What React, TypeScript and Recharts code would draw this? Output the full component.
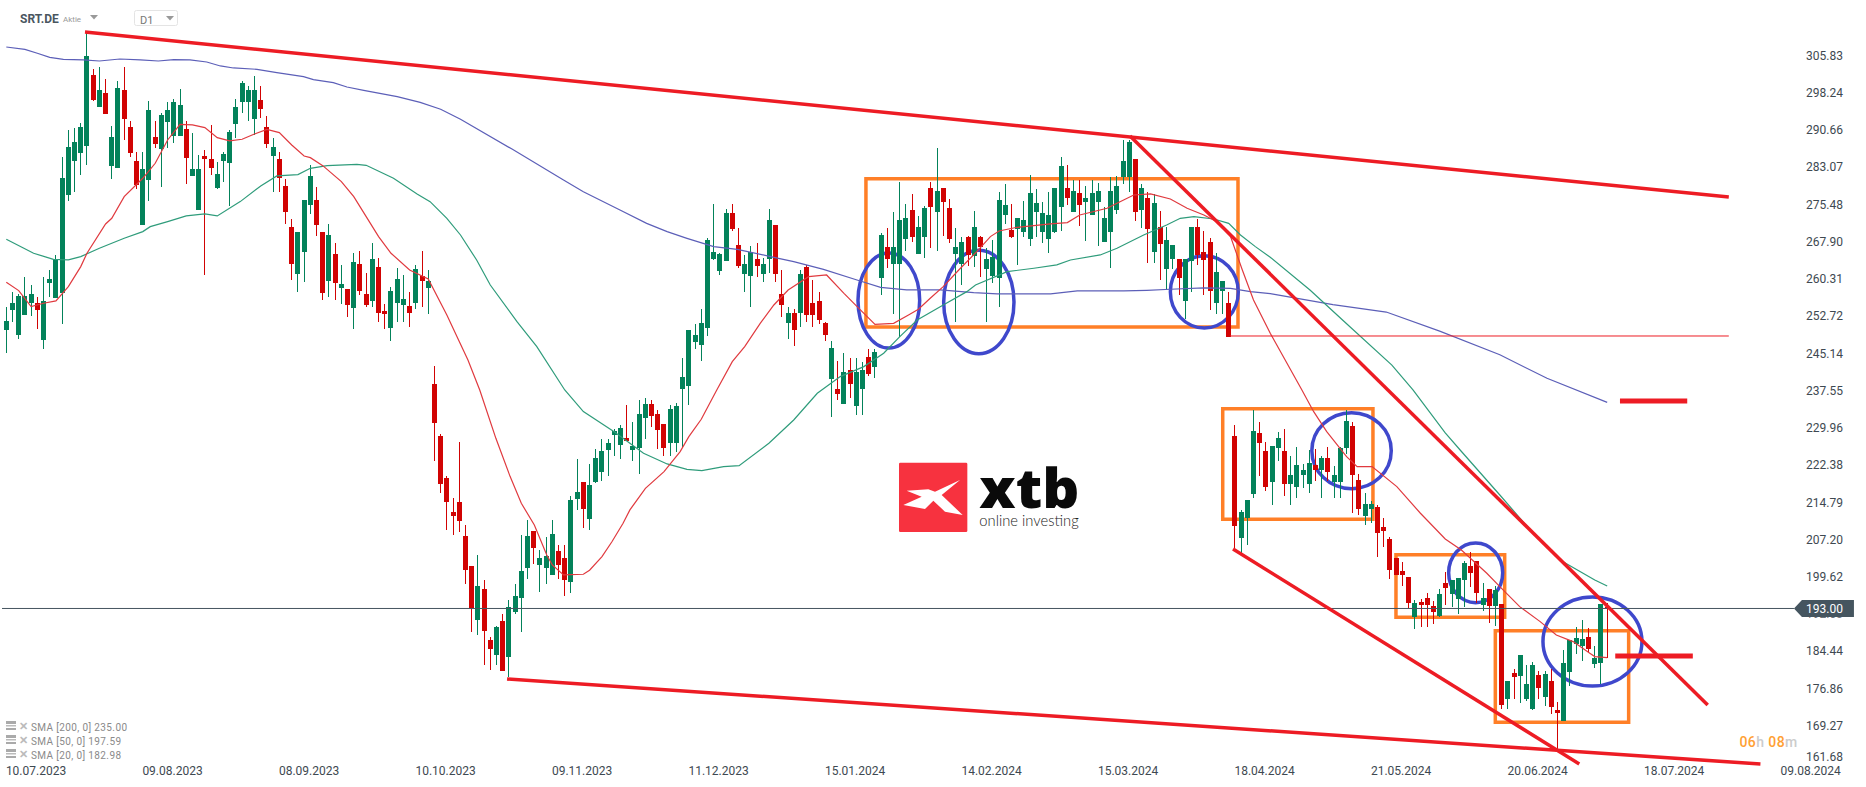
import { Bar, ComposedChart, Line, ReferenceArea, ReferenceDot, ReferenceLine, XAxis, YAxis } from "recharts";

const opens = [
  249.8, 253.8, 248.7, 252.8, 255.3, 255.3, 247.7, 259.3, 256.3, 257.3,
  277.3, 284.2, 285.8, 287.2, 301.7, 295.2, 298, 283.2, 282.8, 298.6,
  291.1, 284.2, 271.2, 280.3, 289.1, 286.6, 292.1, 289.3, 289.3, 290.7,
  281.1, 274.2, 285.2, 284.6, 278.7, 284.2, 283.8, 291.7, 296.2, 296.2,
  292.7, 296.6, 291.1, 285.2, 284.6, 279.1, 270.7, 261.2, 265.6, 275.2,
  276.2, 269.7, 259.7, 265.2, 258.3, 258.1, 254.2, 263.2, 257.1, 255.7,
  262.6, 253.6, 250.2, 255.3, 254.8, 254.6, 255.3, 260.8, 258.3, 238.7,
  228.2, 219.6, 212.7, 214.7, 207.8, 201.7, 190.6, 197, 186.6, 183.5,
  190.5, 183.1, 192.3, 195.2, 201.3, 208.8, 201.9, 201.3, 199.8, 204.7,
  203.3, 198.4, 215.3, 218.8, 211.2, 218.8, 220.8, 225.3, 228.4, 226.3,
  227.7, 225.3, 225.7, 231.8, 234.7, 232.6, 230.6, 226.7, 226.7, 237.7,
  238.3, 247.3, 246.7, 250.2, 264.2, 261.8, 263.8, 273.6, 267.1, 261.2,
  260.7, 264.2, 261.2, 264.2, 271.1, 257.1, 251.2, 253.2, 253.2, 262.6,
  255.2, 255.7, 251.2, 239.8, 237.7, 234.7, 241.6, 234.3, 237.7, 244.2,
  242.2, 260.3, 266.6, 263.2, 263.2, 268.3, 274.2, 265.2, 268.7, 278.7,
  273.8, 278.7, 274.6, 265.2, 263.2, 268.7, 264.8, 268.7, 262.2, 260.8,
  260.3, 273.2, 270.1, 270.3, 269.7, 268.3, 273.8, 269.7, 268.3, 269.7,
  274.8, 278.7, 273.8, 277.7, 275.8, 273.2, 275.8, 267.7, 269.7, 274.2,
  280.9, 280.9, 284.6, 274.2, 276.6, 265.6, 270.7, 262.2, 264.2, 264.2,
  255.7, 263.8, 270.7, 265.6, 267.7, 255.3, 257.7, 255.3, 228.1, 207.4,
  211.4, 216.3, 228.8, 225.1, 218.8, 225.7, 225.1, 218.4, 217.8, 220.2,
  218.4, 222.2, 221.2, 223.7, 218.8, 218.8, 225.7, 230.2, 219.2, 211.9,
  213.3, 213.7, 209.6, 207.2, 203.3, 200.6, 199.4, 191.2, 194.3, 195.1,
  193.5, 191.5, 198.2, 196, 194.9, 198.8, 201.7, 202.7, 193.7, 196.9,
  193.5, 193.9, 174.6, 179.9, 179.2, 174.6, 172.5, 179.5, 175, 178.2,
  172.3, 170, 180.1, 185.8, 185.4, 187.2, 181.7, 181.9, 193.2,
];

const closes = [
  251.6, 255.3, 256.7, 256.7, 257.1, 253.8, 255.7, 260.2, 264.2, 280.7,
  287, 288, 291.1, 305.6, 296.6, 298.6, 293.8, 289.1, 299, 292.7,
  285.8, 279.3, 282.6, 294.6, 287.6, 293.6, 294.6, 296.2, 295.6, 284.8,
  282.6, 282.6, 284.6, 282.8, 281.5, 285.6, 290.1, 295.2, 300.1, 298.6,
  298.6, 294.8, 287.6, 287, 280.7, 273.8, 263.2, 269.7, 276.2, 281.1,
  271.2, 257.3, 269.1, 259.3, 259.1, 254.8, 263.6, 257.7, 254.8, 264.2,
  253.2, 253, 257.7, 260.2, 256.1, 253.2, 262.2, 259.7, 259.7, 230.8,
  218.4, 214.7, 211.9, 210.8, 200.9, 193.1, 197.6, 188.4, 184.8, 189.2,
  180.3, 193.3, 195.5, 200.6, 207.8, 205.3, 203.3, 203.7, 208.2, 201.9,
  198.8, 215.1, 216.7, 213.3, 218.2, 223.7, 225.1, 226.7, 229.2, 229.8,
  227.1, 226.1, 232.6, 234.7, 232.2, 229.4, 225.7, 233.6, 234.3, 240.2,
  249.7, 248.7, 251.2, 268.1, 265.6, 265.2, 273.6, 270.3, 262.8, 263.2,
  265.6, 262.8, 263.2, 272.2, 261.2, 254.8, 253.2, 249.7, 261.2, 252.8,
  252.8, 251.8, 248.7, 246.1, 236.7, 241.2, 238.7, 241.2, 241.6, 240.8,
  245.3, 269.1, 264.2, 266.7, 272.2, 272.6, 268.7, 270.7, 274.6, 274.8,
  278.1, 275.8, 268.3, 266.7, 267.7, 265, 270.7, 266.7, 264.2, 264.6,
  276.2, 275.2, 268.7, 272.6, 272.2, 277.7, 275.6, 273.6, 273.2, 278.7,
  283.2, 276.6, 278, 275.2, 276.6, 277.7, 278, 272.6, 278, 279.1,
  284.2, 288.1, 273.8, 278.7, 270.3, 275.6, 267.3, 268.1, 267, 260.3,
  264.2, 270.7, 265, 264, 257.7, 261.6, 259.7, 248.4, 209.8, 212.7,
  215.1, 229.2, 226.7, 217.8, 226.1, 227.7, 218.4, 220.2, 222.2, 221.2,
  222.7, 221.2, 223.7, 220.8, 220.2, 225.7, 231.2, 220.2, 213.3, 214.3,
  214.3, 208.4, 208.8, 200.9, 199.8, 199.8, 194.1, 194.1, 193.7, 193.7,
  192.3, 196, 197.2, 198.8, 199.2, 202.3, 200.2, 196.2, 195.1, 193.5,
  196.8, 173.4, 178.2, 179, 183.5, 177.6, 181.5, 176.8, 179.7, 172.9,
  171.7, 181.9, 186.6, 187, 186.8, 184.8, 182.9, 193.9, 193,
];

const highs = [
  254.4, 257.4, 257.1, 260.5, 258.9, 256.4, 260.5, 262, 265, 285,
  290.5, 290.8, 291.9, 310.4, 302.9, 303.3, 300.9, 291.4, 300.5, 303.3,
  292.3, 286, 286, 296.4, 292.3, 294, 296.2, 296.8, 298.8, 292.3,
  289.9, 285.4, 286.4, 291.5, 284, 286, 290.5, 296.8, 300.5, 299.5,
  301.5, 299.5, 293.3, 288.9, 286, 280.5, 272.4, 269.7, 276.2, 283.4,
  278.9, 269.7, 271.4, 267.5, 263, 258.1, 265.4, 265.8, 261.4, 267.5,
  264.4, 255.1, 258.5, 262.4, 261, 257.5, 263, 265.8, 262, 242.4,
  228.6, 220, 215.5, 226.9, 210, 201.7, 203.9, 198.8, 187.2, 189.4,
  191.9, 194.7, 198, 208, 211, 208.8, 204.9, 207.6, 211, 205.9,
  205.9, 215.9, 223.5, 218.8, 222.4, 225.5, 227.5, 227.5, 229.6, 230.4,
  234.5, 231, 235.5, 235.9, 235.5, 233.4, 230.6, 234.5, 234.9, 244,
  249.7, 251, 254, 268.5, 275.4, 265.4, 274.4, 275.4, 270.5, 265,
  266.9, 267.5, 264.4, 274.4, 271.1, 262, 254.4, 254, 262, 263,
  259.9, 257.5, 251.4, 247.5, 243.4, 245.1, 244, 244, 243.2, 245.9,
  245.9, 269.5, 270.5, 273.8, 279.9, 275.4, 277.5, 273, 275, 279.9,
  286.8, 278.7, 276.4, 270.5, 268.7, 268.9, 274, 268.9, 266.4, 268.1,
  277.9, 279.5, 275.4, 272.6, 276, 281.3, 278.5, 275.8, 277.9, 278.7,
  285, 283.4, 280.3, 280.3, 279, 280.3, 279.7, 274.8, 280.9, 281.1,
  288.5, 288.5, 284.6, 279.5, 277.9, 277.5, 274, 270.7, 267, 264.2,
  264.2, 270.7, 272.4, 269.9, 268.5, 265.4, 259.7, 257.5, 230.4, 213.1,
  215.1, 233.4, 231, 226.9, 226.1, 229, 229.6, 224.1, 225.9, 222.4,
  225.3, 225.5, 224.1, 225.9, 222, 225.9, 233.4, 231, 220.4, 216.5,
  214.9, 214.1, 211.4, 207.6, 203.3, 202.5, 199.4, 194.7, 194.9, 196.2,
  194.5, 196.9, 200.4, 198.8, 199.2, 202.7, 204.5, 202.7, 198.2, 196.9,
  197.6, 194, 178.2, 180.7, 183.5, 181.5, 182.1, 180.2, 180.3, 180.7,
  173.9, 184.5, 186.6, 189.2, 190.7, 189, 185.4, 193.9, 194.1,
];

const lows = [
  245.1, 251.4, 247.9, 252.8, 252.5, 250, 245.9, 256.4, 256.3, 251,
  276, 277.9, 281.3, 283.4, 296.4, 295.2, 293.8, 280.5, 282.8, 288.5,
  285, 278.5, 271.2, 276, 286.8, 278.9, 286.8, 287.9, 289.3, 279.5,
  281.1, 274.2, 261, 281.3, 278.5, 279.9, 275, 288.9, 294, 292.3,
  289.5, 292.9, 286.8, 277.9, 277.9, 271.4, 259.9, 257.5, 259.5, 273.4,
  268.9, 255.9, 256.5, 255.9, 255, 252.4, 250, 256.9, 254.5, 254.5,
  251.4, 250, 247.5, 251.4, 251.4, 250.4, 254, 254.5, 253, 223.1,
  216.5, 209, 208, 208.6, 198, 188.2, 187.6, 181.5, 180.5, 181.5,
  180.3, 179, 191.9, 188.2, 199, 202.1, 196.4, 198, 199.8, 199,
  195.6, 196.2, 213.1, 209.4, 209, 218.6, 219, 220, 224, 223.5,
  227.1, 223.1, 220.4, 227.5, 230, 225.5, 224.1, 224.1, 224.9, 225.6,
  234.5, 245.9, 243.4, 248.5, 264, 260.9, 263.8, 269.9, 262.4, 257.5,
  254.4, 260.5, 259.5, 261.4, 259.5, 252.4, 247.9, 246.5, 250.4, 251.4,
  250.4, 251, 247.5, 232, 235.5, 234.7, 235.9, 232.4, 232.4, 240.4,
  240, 256.9, 262.4, 253, 248.4, 265.8, 267.7, 265.2, 264.4, 266.4,
  265.8, 268.9, 267.5, 251.4, 258.9, 262.8, 262.6, 260.5, 251.4, 259.3,
  254.4, 271.3, 268.5, 263, 268.7, 266.9, 268.7, 267.5, 265.4, 269.5,
  269.9, 275.2, 273.8, 271, 267.9, 273.2, 266.9, 267.7, 262.4, 273.4,
  279.5, 277.9, 272, 270.5, 263.4, 263.4, 259.9, 257.9, 262.2, 256.9,
  252, 257.5, 263, 256.9, 253.8, 253, 253, 248.4, 204.9, 203.9,
  205.9, 215.5, 220, 217, 214.1, 223, 215.9, 214.1, 215.5, 217.6,
  216.5, 219, 215.5, 219, 215.5, 215.5, 224.5, 212.5, 212.1, 210,
  210.4, 203.5, 205.5, 199, 199.8, 197.6, 193, 188.8, 189.2, 189.2,
  189.8, 191.3, 193.7, 193.3, 191.9, 193.3, 197.4, 194.1, 192.5, 190,
  189.4, 172.6, 172.5, 174.6, 173.8, 174.2, 172.3, 174.6, 173.2, 171.5,
  164.2, 170, 177.2, 183.7, 182.3, 184.1, 180.9, 177.6, 182.9,
];

// moving averages as [candle index, price]
const sma20Points = [
  [0, 259.47], [2, 257.77], [4, 254.51], [6, 255.19], [8, 255.67], [10, 258.59], [12, 262.66], [13, 265.38],
  [16, 271.35], [17, 272.5], [19, 276.92], [22, 280.65], [24, 283.71], [26, 288.46], [28, 291.65], [30, 291.52],
  [32, 290.97], [34, 288.94], [36, 288.26], [38, 288.6], [40, 289.68], [42, 290.63], [44, 289.96], [46, 287.44],
  [48, 285.2], [49, 284.86], [51, 283.23], [54, 279.97], [56, 276.92], [58, 272.84], [60, 268.77], [62, 265.38],
  [65, 261.98], [68, 260.15], [71, 252.8], [73, 247.38], [74.4, 243.63], [76.3, 237.52], [78.9, 227.67], [81.2, 219.87],
  [83, 214.43], [85.1, 210.02], [87.1, 203.91], [88, 201.87], [89.8, 199.83], [93, 199.97], [94, 200.8], [96, 203.57],
  [97.6, 206.6], [99.4, 210.36], [100.5, 213.08], [103, 217.49], [106, 220.89], [108.6, 224.96], [110, 228.02],
  [112, 231.55], [114.5, 237.52], [117, 243.3], [119, 246.35], [121.5, 251.1], [123.7, 254.84], [126, 257.89],
  [129.3, 260.61], [132.2, 260.95], [135, 257.21], [137.4, 254.16], [140, 250.9], [143, 251.1], [145.4, 252.8],
  [147, 253.96], [148.9, 256.2], [151, 258.58], [153.5, 261.97], [156.4, 265.71], [158.6, 268.77], [160, 269.92],
  [162.9, 270.67], [168.3, 271.35], [171, 271.62], [173, 273.18], [177.4, 274.54], [179, 275.56], [181.7, 277.25],
  [184.4, 277.46], [187.6, 276.44], [190.3, 274.54], [193, 273.18], [195.1, 271.82], [197.3, 268.77], [199.2, 261.97],
  [201, 255.86], [203.7, 249.07], [208.8, 237.52], [210.7, 233.1], [212.8, 229.03], [216, 223.94], [217.7, 221.9],
  [220.1, 221.9], [224.1, 217.83], [227.9, 212.4], [231.9, 207.17], [234.5, 204.92], [238.6, 200.17], [240.7, 197.45],
  [243.9, 193.38], [247.2, 190.32], [249.8, 187.6], [252.5, 186.25], [255.2, 183.87], [256, 183.19], [258, 182.98],
];

const sma50Points = [
  [0, 268.23], [4.4, 265.38], [7.6, 264.15], [10, 264.02], [12, 264.7], [15, 266.4], [19, 268.43], [22, 269.79],
  [23.2, 270.8], [26, 271.83], [29, 272.98], [32, 273.39], [34, 272.98], [37.7, 275.9], [41, 279.09], [43.6, 281.13],
  [47, 281.4], [49, 282.69], [51.7, 283.23], [56.5, 283.5], [58, 283.3], [62.4, 280.65], [66.2, 277.46], [68.3, 275.9],
  [71, 272.5], [73.2, 269.1], [75.8, 264], [78, 258.9], [82.3, 251.44], [85.5, 246.35], [90, 237.52], [93, 233.11],
  [97.9, 229.04], [102.7, 224.62], [106.5, 222.45], [109.7, 221.36], [112.1, 221.09], [115.6, 221.91], [118.1, 222.11],
  [122.9, 226.66], [126.9, 231.41], [130.7, 236.84], [134.4, 240.24], [138.2, 242.28], [141.4, 245], [144, 248.4],
  [146.8, 251.79], [151, 254.85], [154.8, 257.56], [156.2, 258.92], [161.3, 261.64], [165.6, 262.32], [169.3, 263],
  [171.5, 264], [176.3, 265.03], [179, 266.39], [183.3, 269.1], [187, 271.14], [189.2, 272.5], [191.4, 272.84],
  [194.6, 272.36], [197, 271.48], [198.9, 269.1], [201.3, 266.73], [203.7, 264.56], [210.1, 257.89], [215.7, 251.37],
  [223.3, 242.6], [226.7, 237.52], [231.9, 228.76], [234.3, 225.29], [240.7, 216.12], [245.6, 208.99], [250.4, 202.88],
  [256, 198.8], [258, 197.59],
];

const sma200Points = [
  [0, 307.4], [3, 306.93], [5, 306.12], [7, 305.3], [9.2, 304.9], [12.4, 304.76], [15, 304.55], [18.3, 304.96],
  [21.6, 304.76], [24.5, 304.55], [27, 304.83], [29.6, 304.76], [32.3, 304.35], [34.5, 303.54], [36.6, 303.13],
  [40.4, 302.86], [43.6, 302.18], [47.9, 301.36], [49.5, 300.75], [52.7, 300.14], [54.9, 299.26], [57.6, 298.58],
  [63, 297.29], [66.7, 296.13], [70, 294.71], [73.2, 292.67], [81.5, 286.6], [89.8, 280.3], [93, 277.92], [98.9, 274.19],
  [103.2, 271.47], [106.5, 269.78], [109.7, 268.42], [114, 266.72], [117.8, 266.18], [123.7, 264.55], [126.9, 263.66],
  [131.7, 262.1], [137.1, 259.93], [140.9, 258.44], [145.1, 257.9], [150.5, 257.9], [155.9, 257.36], [159.7, 257.09],
  [168.3, 257.09], [172.6, 257.7], [180.1, 257.7], [183.8, 257.83], [187.6, 258.04], [193, 258.31], [197.3, 258.24],
  [200.5, 257.56], [203.7, 257.15], [213.8, 254.9], [222.4, 253.4], [231, 249.5], [240.7, 244.7], [248.3, 239.9], [258, 235],
];

const priceTicks = [
  305.83, 298.24, 290.66, 283.07, 275.48, 267.9, 260.31, 252.72, 245.14, 237.55,
  229.96, 222.38, 214.79, 207.2, 199.62, 192.03, 184.44, 176.86, 169.27, 161.68,
];

const dateLabels = [
  "10.07.2023", "09.08.2023", "08.09.2023", "10.10.2023", "09.11.2023", "11.12.2023", "15.01.2024",
  "14.02.2024", "15.03.2024", "18.04.2024", "21.05.2024", "20.06.2024", "18.07.2024", "09.08.2024",
];
const dateTicks = dateLabels.map((_, k) => 4.79 + 22 * k);

// drawn analysis, in candle index / price
const trendLines = [
  { x1: 12.68, y1: 310.46, x2: 277.6, y2: 276.84, w: 3.5 },
  { x1: 80.7, y1: 178.63, x2: 282.7, y2: 161.3, w: 3.5 },
  { x1: 181.1, y1: 289.27, x2: 274.2, y2: 173.34, w: 3.5 },
  { x1: 197.7, y1: 205.12, x2: 253.5, y2: 161.32, w: 3.5 },
  { x1: 197.2, y1: 248.52, x2: 277.6, y2: 248.52, w: 1 },
  { x1: 260.06, y1: 235.28, x2: 270.9, y2: 235.28, w: 5 },
  { x1: 259.3, y1: 183.32, x2: 271.8, y2: 183.32, w: 5 },
];
const boxes = [
  { x1: 138.54, x2: 198.5, y1: 250.35, y2: 280.57 },
  { x1: 196.04, x2: 220.25, y1: 211.17, y2: 233.71 },
  { x1: 223.96, x2: 241.48, y1: 191.2, y2: 203.96 },
  { x1: 239.97, x2: 261.46, y1: 169.81, y2: 188.48 },
];
const ellipses = [
  { x1: 137.26, x2: 147.2, y1: 246.07, y2: 265.43 },
  { x1: 151.07, x2: 162.4, y1: 244.91, y2: 265.98 },
  { x1: 187.6, x2: 198.55, y1: 250.15, y2: 264.88 },
  { x1: 210.4, x2: 223.2, y1: 217.41, y2: 232.89 },
  { x1: 232.45, x2: 241.16, y1: 194.18, y2: 206.35 },
  { x1: 247.65, x2: 263.6, y1: 177.2, y2: 195.34 },
];

const lastPrice = 193;
const smaLegend = ["SMA [200, 0] 235.00", "SMA [50, 0] 197.59", "SMA [20, 0] 182.98"];

const GREEN = "#03825A";
const RED = "#D10303";
const TREND = "#ED1C24";
const font = "Roboto, sans-serif";

const candles = opens.map((open, i) => ({
  i,
  open,
  close: closes[i],
  high: highs[i],
  low: lows[i],
  range: [lows[i], highs[i]],
}));

const toPoints = (pts: number[][]) => pts.map(([i, v]) => ({ i, v }));

function Candle(props: any) {
  const { x, y, width, height, payload } = props;
  const { open, close, high, low } = payload;
  const color = close >= open ? GREEN : RED;
  const perUnit = height / (high - low);
  const top = y + (high - Math.max(open, close)) * perUnit;
  const bodyH = Math.max(1, Math.abs(open - close) * perUnit);
  const cx = x + width / 2;
  return (
    <g shapeRendering="crispEdges">
      <rect x={Math.round(cx - 0.5)} y={y} width={1} height={height} fill={color} />
      <rect x={Math.round(cx - 2.5)} y={top} width={5} height={bodyH} fill={color} />
    </g>
  );
}

function PriceTick({ x, y, payload }: any) {
  const value = payload.value;
  // the lowest label is pushed up by the time axis
  const shift = value === 161.68 ? -5 : 1;
  // 192.03 sits behind the price flag, only its lower edge shows
  const hidden = value === 192.03;
  return (
    <g>
      {hidden && (
        <clipPath id="behind-flag">
          <rect x={x - 50} y={y + 4} width={60} height={12} />
        </clipPath>
      )}
      <text
        x={x}
        y={y + shift + 4}
        textAnchor="end"
        fontFamily={font}
        fontSize={12}
        fill="#3E4951"
        clipPath={hidden ? "url(#behind-flag)" : undefined}
      >
        {value.toFixed(2)}
      </text>
    </g>
  );
}

function DateTick({ x, y, index }: any) {
  return (
    <text x={x} y={y + 8} textAnchor="middle" fontFamily={font} fontSize={12} fill="#3E4951">
      {dateLabels[index]}
    </text>
  );
}

function PriceFlag({ cx, cy }: any) {
  return (
    <g>
      <polygon points={`${cx},${cy} ${cx + 8},${cy - 8.5} ${cx + 60},${cy - 8.5} ${cx + 60},${cy + 8.5} ${cx + 8},${cy + 8.5}`} fill="#45555F" />
      <text x={cx + 49} y={cy + 5} textAnchor="end" fontFamily={font} fontSize={12} fill="#fff">
        {lastPrice.toFixed(2)}
      </text>
    </g>
  );
}

function EllipseShape({ x, y, width, height }: any) {
  return (
    <ellipse
      cx={x + width / 2}
      cy={y + height / 2}
      rx={Math.abs(width) / 2}
      ry={Math.abs(height) / 2}
      fill="none"
      stroke="#3F48CC"
      strokeWidth={3.5}
    />
  );
}

function Overlay() {
  return (
    <svg width={1866} height={787} style={{ position: "absolute", left: 0, top: 0, pointerEvents: "none" }}>
      <text x={20} y={23} fontFamily={font} fontSize={12} fontWeight={700} fill="#4A565F">SRT.DE</text>
      <text x={63} y={22} fontFamily={font} fontSize={8} fill="#999">Aktie</text>
      <polygon points="90,15 98,15 94,19.5" fill="#999" />
      <rect x={134.5} y={10.5} width={43} height={15} rx={2} fill="#fff" stroke="#E4E4E4" />
      <text x={140} y={24} fontFamily={font} fontSize={11} fill="#777">D1</text>
      <polygon points="166,16 174,16 170,20.5" fill="#999" />

      {smaLegend.map((label, k) => {
        const cy = 727 + k * 14;
        return (
          <g key={label}>
            <rect x={6} y={cy - 6} width={10} height={3} fill="#AAA" />
            <rect x={6} y={cy - 2} width={10} height={1.5} fill="#BBB" />
            <rect x={6} y={cy + 1} width={10} height={2} fill="#AAA" />
            <text x={19} y={cy + 3} fontFamily={font} fontSize={11} fontWeight={700} fill="#BBB">✕</text>
            <text x={31} y={cy + 4} fontFamily={font} fontSize={10} fill="#8A8A8A" textLength={label.length > 18 ? 96 : 90}>
              {label}
            </text>
          </g>
        );
      })}

      <text x={1739.5} y={747} fontFamily={font} fontSize={14} fontWeight={500} letterSpacing={0.4}>
        <tspan fill="#FFA033">06</tspan>
        <tspan fill="#CCC">h </tspan>
        <tspan fill="#FFA033">08</tspan>
        <tspan fill="#CCC">m</tspan>
      </text>

      <svg x={880} y={440} width={220} height={110} viewBox="0 0 660 330">
        <rect x={57} y={68} width={205} height={208} rx={4} fill="#F7323F" />
        <polygon points="240,120 185,165 248,225 195,215 160,182 135,207 70,195 125,170 80,152 145,148 165,155" fill="#fff" />
        <text x={298} y={205} fontFamily="'Open Sans', sans-serif" fontWeight={800} fontSize={165} textLength={300} lengthAdjust="spacingAndGlyphs" fill="#0A0A0A">xtb</text>
        <text x={298} y={257} fontFamily="Lato, sans-serif" fontWeight={300} fontSize={44} textLength={298} lengthAdjust="spacingAndGlyphs" fill="#222">online investing</text>
      </svg>
    </svg>
  );
}

export default function App() {
  return (
    <div style={{ position: "absolute", left: 0, top: 0, width: 1866, height: 787, background: "#fff", overflow: "hidden" }}>
      <ComposedChart width={1866} height={787} data={candles} margin={{ top: 0, right: 0, left: 0, bottom: 0 }}>
        <XAxis
          dataKey="i"
          type="number"
          domain={[-1.015, 299.71]}
          allowDataOverflow
          ticks={dateTicks}
          interval={0}
          height={20}
          axisLine={false}
          tickLine={false}
          tickSize={0}
          tickMargin={0}
          tick={DateTick}
        />
        <YAxis
          orientation="right"
          mirror
          type="number"
          domain={[160.7, 316.98]}
          allowDataOverflow
          ticks={priceTicks}
          interval={0}
          axisLine={false}
          tickLine={false}
          tickSize={0}
          tickMargin={23}
          tick={PriceTick}
        />
        <Bar dataKey="range" barSize={5} shape={Candle} isAnimationActive={false} />
        <Line data={toPoints(sma200Points)} dataKey="v" stroke="#5C5FB8" strokeWidth={1.2} dot={false} activeDot={false} isAnimationActive={false} />
        <Line data={toPoints(sma50Points)} dataKey="v" stroke="#2F9C7B" strokeWidth={1.2} dot={false} activeDot={false} isAnimationActive={false} />
        <Line data={toPoints(sma20Points)} dataKey="v" stroke="#E03A3F" strokeWidth={1.2} dot={false} activeDot={false} isAnimationActive={false} />
        <ReferenceLine
          segment={[{ x: -0.69, y: lastPrice }, { x: 288.1, y: lastPrice }]}
          stroke="#45555F"
          strokeWidth={1}
        />
        {boxes.map((b) => (
          <ReferenceArea key={b.x1} x1={b.x1} x2={b.x2} y1={b.y1} y2={b.y2} fill="none" fillOpacity={0} stroke="#FF7F27" strokeOpacity={1} strokeWidth={3.5} />
        ))}
        {ellipses.map((e) => (
          <ReferenceArea key={e.x1} x1={e.x1} x2={e.x2} y1={e.y1} y2={e.y2} shape={EllipseShape} />
        ))}
        {trendLines.map((t) => (
          <ReferenceLine
            key={t.x1}
            segment={[{ x: t.x1, y: t.y1 }, { x: t.x2, y: t.y2 }]}
            stroke={TREND}
            strokeWidth={t.w}
          />
        ))}
        <ReferenceDot x={288.1} y={lastPrice} shape={PriceFlag} />
      </ComposedChart>
      <Overlay />
    </div>
  );
}
